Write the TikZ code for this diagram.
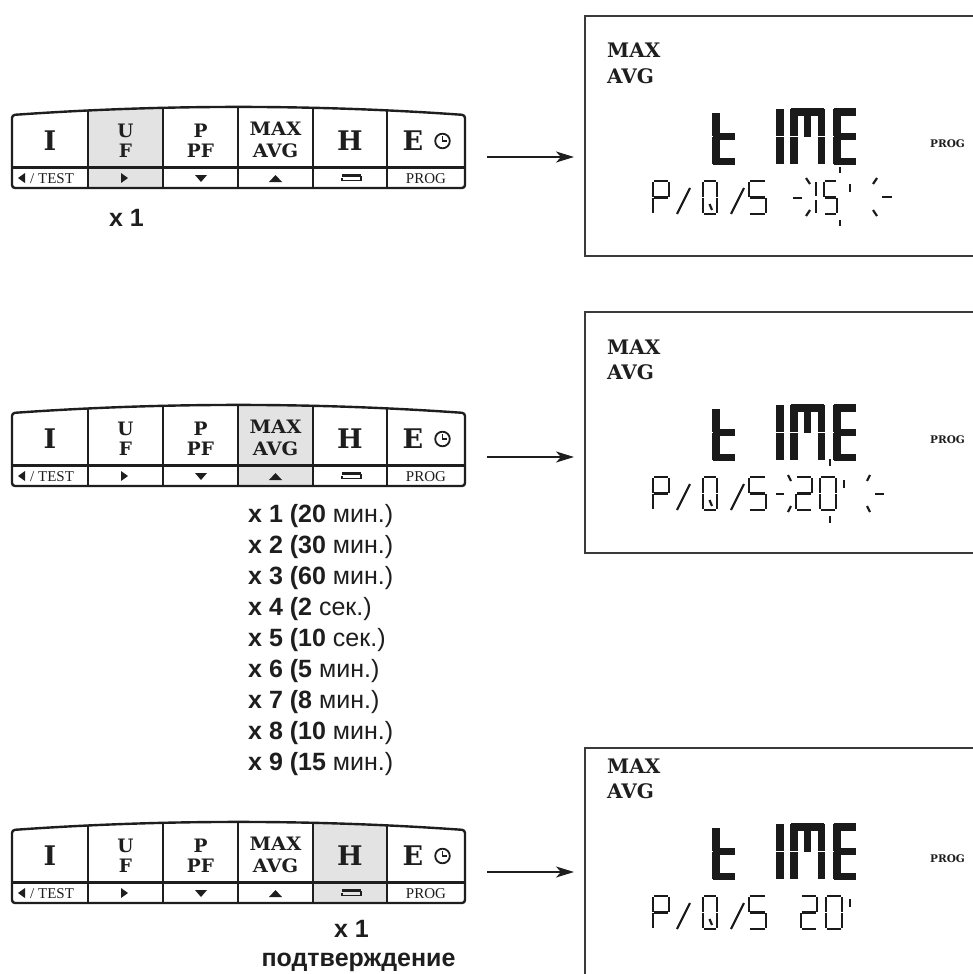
\documentclass[tikz,border=0pt]{standalone}
\usepackage{fontspec}
\usepackage{graphicx}
\setmainfont{Liberation Sans}
\newfontfamily\kserif{DejaVu Serif}
\newfontfamily\tserif{Liberation Serif}
\usetikzlibrary{arrows.meta}
\definecolor{ink}{HTML}{1E1E1E}
\definecolor{hl}{HTML}{E3E3E3}
\definecolor{boxc}{HTML}{3A3A3A}
\definecolor{seg}{HTML}{1A1A1A}

% ---------- LCD segment helpers ----------
\newcommand\sgset[6]{\def\sgX{#1}\def\sgY{#2}\def\sgW{#3}\def\sgH{#4}\def\sgT{#5}\def\sgG{#6}}
\newcommand\sgdraw[1]{\foreach \s in {#1}{\csname sgseg\s\endcsname}}
\newcommand\sgsega{\draw[lcd] ({\sgX+\sgG},{\sgY+\sgT/2}) -- ({\sgX+\sgW-\sgG},{\sgY+\sgT/2});}
\newcommand\sgsegd{\draw[lcd] ({\sgX+\sgG},{\sgY+\sgH-\sgT/2}) -- ({\sgX+\sgW-\sgG},{\sgY+\sgH-\sgT/2});}
\newcommand\sgsegg{\draw[lcd] ({\sgX+\sgG},{\sgY+\sgH/2}) -- ({\sgX+\sgW-\sgG},{\sgY+\sgH/2});}
\newcommand\sgsegf{\draw[lcd] ({\sgX+\sgT/2},{\sgY+\sgG}) -- ({\sgX+\sgT/2},{\sgY+\sgH/2-\sgG/2});}
\newcommand\sgsege{\draw[lcd] ({\sgX+\sgT/2},{\sgY+\sgH/2+\sgG/2}) -- ({\sgX+\sgT/2},{\sgY+\sgH-\sgG});}
\newcommand\sgsegb{\draw[lcd] ({\sgX+\sgW-\sgT/2},{\sgY+\sgG}) -- ({\sgX+\sgW-\sgT/2},{\sgY+\sgH/2-\sgG/2});}
\newcommand\sgsegc{\draw[lcd] ({\sgX+\sgW-\sgT/2},{\sgY+\sgH/2+\sgG/2}) -- ({\sgX+\sgW-\sgT/2},{\sgY+\sgH-\sgG});}
\newcommand\sgsegh{\draw[lcd] ({\sgX+\sgW/2},{\sgY+\sgT}) -- ({\sgX+\sgW/2},{\sgY+\sgH/2});}

\tikzset{
 lcd/.style={line width=\sgT pt, draw=seg},
 tick/.style={line width=2.2pt, draw=seg},
 kline/.style={line width=2.2pt, draw=ink},
 arr/.style={line width=2pt, draw=ink, -{Stealth[length=18pt,width=11pt,inset=5pt]}},
 boxl/.style={line width=2pt, draw=boxc},
 dtxt/.style={font=\kserif\bfseries\fontsize{20}{20}\selectfont, inner sep=0pt, anchor=base west, text=ink},
 dprog/.style={font=\kserif\bfseries\fontsize{10.5}{10.5}\selectfont, inner sep=0pt, anchor=base west, text=ink},
 kbig/.style={font=\kserif\bfseries\fontsize{27}{27}\selectfont, inner sep=0pt, anchor=base, text=ink},
 ksmall/.style={font=\kserif\bfseries\fontsize{18.5}{18.5}\selectfont, inner sep=0pt, anchor=base, text=ink},
 klow/.style={font=\tserif\fontsize{15}{15}\selectfont, inner sep=0pt, anchor=base, text=ink},
 stxt/.style={font=\fontsize{25}{25}\selectfont, inner sep=0pt, anchor=base, text=ink},
}

% ---------- keypad ----------
\newcommand\keypad[3]{%
\begin{scope}[shift={(0,#1)}]
 \begin{scope}
  \clip (12,115) .. controls (163,104.3) and (314,104.3) .. (465,115) -- (465,188) -- (12,188) -- cycle;
  \ifcase#2\or
   \fill[hl] (12,95) rectangle (88,190);\or
   \fill[hl] (88,95) rectangle (163,190);\or
   \fill[hl] (163,95) rectangle (238,190);\or
   \fill[hl] (238,95) rectangle (313,190);\or
   \fill[hl] (313,95) rectangle (387,190);\or
   \fill[hl] (387,95) rectangle (465,190);\fi
  \foreach \xx in {88,163,238,313,387} \draw[kline] (\xx,95) -- (\xx,190);
  \draw[kline, line width=2.6pt] (10,167.5) -- (467,167.5);
 \end{scope}
 \draw[kline, line width=2.4pt, rounded corners=3pt] (12,115) .. controls (163,104.3) and (314,104.3) .. (465,115) -- (465,188) -- (12,188) -- cycle;
 \node[kbig] (#3i) at (50,150) {I};
 \node[ksmall] (#3u) at (125.5,137) {U};
 \node[ksmall] (#3f) at (125.5,157.5) {F};
 \node[ksmall] (#3p) at (200.5,137) {P};
 \node[ksmall] (#3pf) at (200.5,157.5) {PF};
 \node[ksmall] (#3max) at (275.5,135.5) {\scalebox{1.05}[1]{MAX}};
 \node[ksmall] (#3avg) at (275.5,157.5) {\scalebox{1.05}[1]{AVG}};
 \node[kbig] (#3h) at (350,150.5) {H};
 \node[kbig] (#3e) at (413,150.5) {E};
 \draw[line width=1.8pt, ink] (442.5,141) circle (7.3);
 \draw[line width=1.6pt, ink] (442.5,136) -- (442.5,141) -- (446.5,141);
 \fill[ink] (18,178) -- (25,173) -- (25,183) -- cycle;
 \node[klow, anchor=base west] (#3test) at (30,183.5) {/ TEST};
 \fill[ink] (128,178) -- (121,173) -- (121,183) -- cycle;
 \fill[ink] (195,175) -- (207,175) -- (201,182) -- cycle;
 \fill[ink] (269,182) -- (282,182) -- (275.5,175) -- cycle;
 \draw[ink, line width=2.6pt] (342,175.5) -- (361,175.5);
 \draw[ink, line width=1.3pt] (342,180.5) -- (361,180.5) -- (361,175.5);
 \draw[ink, line width=1.3pt] (342,178) -- (342,181);
 \node[klow] (#3prog) at (426,183.5) {PROG};
\end{scope}}

% ---------- display common content ----------
\newcommand\display[2]{%
\begin{scope}[shift={(0,#1)}]
 \node[dtxt] (#2max) at (607,58) {MAX};
 \node[dtxt] (#2avg) at (607,83) {AVG};
 \node[dprog] (#2prog) at (930,147) {PROG};
 % big "tIME"
 \sgset{712}{108}{24}{57}{7.5}{1.2}\sgdraw{e,g,d}
 \draw[lcd] ({\sgX+\sgT/2},{\sgY+5}) -- ({\sgX+\sgT/2},{\sgY+\sgH/2-\sgG/2});
 \sgset{776}{108}{20}{57}{7.5}{1.2}\sgdraw{f,e}
 \sgset{790}{108}{35}{57}{7.5}{1.2}\sgdraw{a,b,c,e,f,h}
 \sgset{833}{108}{24}{57}{7.5}{1.2}\sgdraw{a,f,g,e,d}
 % small "P/Q/S"
 \sgset{652}{180}{18}{35}{2.2}{1.8}\sgdraw{a,b,f,g,e}
 \draw[tick] (677,214) -- (690,188);
 \sgset{702}{180}{16}{35}{2.2}{1.8}\sgdraw{a,b,c,d,e,f}
 \draw[tick] (709.5,204) -- (712,210);
 \draw[tick] (731,214) -- (744,188);
 \sgset{748}{180}{19}{35}{2.2}{1.8}\sgdraw{a,f,g,c,d}
\end{scope}}

\begin{document}
\begin{tikzpicture}[x=1pt,y=-1pt]
\clip (0,0) rectangle (973,974);
\fill[white] (0,0) rectangle (973,974);

% ===== keypads =====
\keypad{0}{2}{ka}
\keypad{298}{4}{kb}
\keypad{715}{5}{kc}

% ===== display boxes =====
\draw[boxl] (985,16) -- (585,16) -- (585,256) -- (985,256);
\draw[boxl] (985,312) -- (585,312) -- (585,553) -- (985,553);
\draw[boxl] (985,748) -- (585,748) -- (585,985);

\display{0}{da}
\display{296}{db}
\display{715}{dc}

% box 1 value "-)15' (-"
\begin{scope}
 \draw[tick] (793,198) -- (802,198);
 \draw[tick] (806,178) -- (810,184);
 \draw[tick] (810,210) -- (806,216);
 \draw[tick] (816,182) -- (816,196);
 \draw[tick] (816,200) -- (816,213);
 \sgset{823}{180}{15}{35}{2.2}{1.8}\sgdraw{a,f,g,c,d}
 \draw[tick] (840,167) -- (840,173);
 \draw[tick] (840,220) -- (840,226);
 \draw[tick] (850,184) -- (850,192);
 \draw[tick] (877,178) -- (873,184);
 \draw[tick] (873,210) -- (877,216);
 \draw[tick] (882,197) -- (892,197);
\end{scope}
% box 2 value "-)20' (-"
\begin{scope}[shift={(0,296)}]
 \draw[tick] (776,198) -- (784,198);
 \draw[tick] (788,179) -- (791,185);
 \draw[tick] (791,210) -- (788,216);
 \sgset{795}{180}{18}{35}{2.2}{1.8}\sgdraw{a,b,g,e,d}
 \sgset{819}{180}{18}{35}{2.2}{1.8}\sgdraw{a,b,c,d,e,f}
 \draw[tick] (830,163) -- (830,170);
 \draw[tick] (830,220) -- (830,227);
 \draw[tick] (844,184) -- (844,192);
 \draw[tick] (870,179) -- (867,185);
 \draw[tick] (867,210) -- (870,216);
 \draw[tick] (875,198) -- (884,198);
\end{scope}
% box 3 value "20'"
\begin{scope}[shift={(0,715)}]
 \sgset{800}{180}{18}{35}{2.2}{1.8}\sgdraw{a,b,g,e,d}
 \sgset{825}{180}{18}{35}{2.2}{1.8}\sgdraw{a,b,c,d,e,f}
 \draw[tick] (850,184) -- (850,192);
\end{scope}

% ===== arrows =====
\coordinate (a1s) at (487,157); \coordinate (a1e) at (574,157);
\coordinate (a2s) at (487,457); \coordinate (a2e) at (574,457);
\coordinate (a3s) at (487,872); \coordinate (a3e) at (574,872);
\draw[arr] (a1s) -- (a1e);
\draw[arr] (a2s) -- (a2e);
\draw[arr] (a3s) -- (a3e);

% ===== texts =====
\node[stxt] (t1) at (126.5,226) {\textbf{x 1}};
\foreach \n/\v/\u [count=\i from 0] in {1/20/мин.,2/30/мин.,3/60/мин.,4/2/сек.,5/10/сек.,6/5/мин.,7/8/мин.,8/10/мин.,9/15/мин.}
  \node[stxt, anchor=base west] (l\n) at (248,{522+31*\i}) {\textbf{x \n\ (\v}\ \u)};
\node[stxt] (t3) at (351.5,937) {\textbf{x 1}};
\node[stxt] (t4) at (358.5,966) {\textbf{подтверждение}};
\end{tikzpicture}
\end{document}
